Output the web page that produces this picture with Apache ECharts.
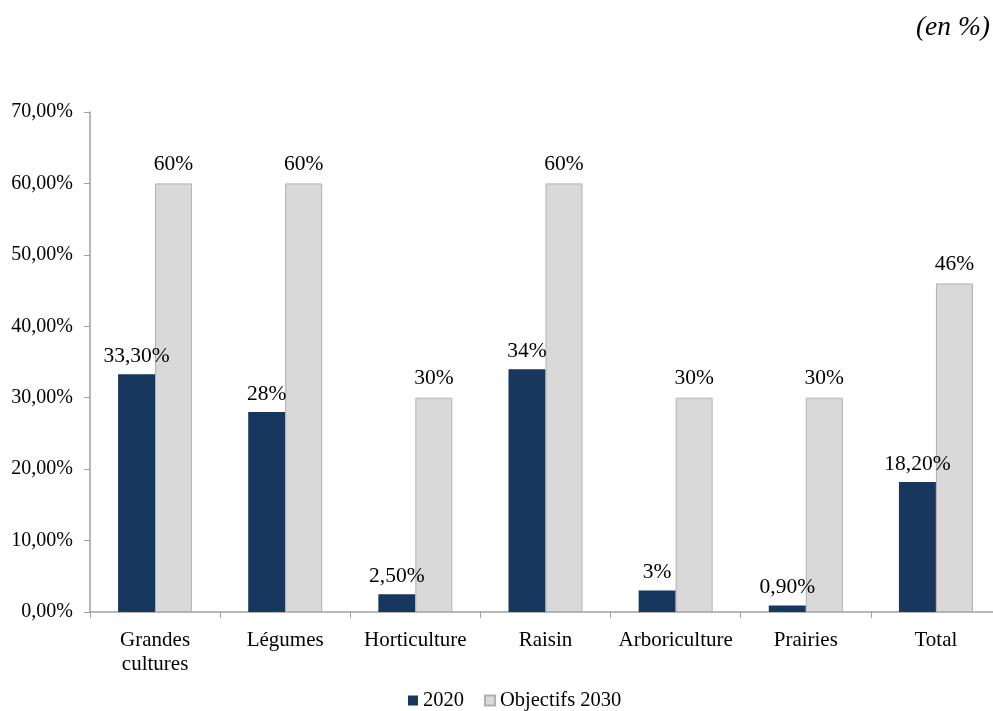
<!DOCTYPE html>
<html><head><meta charset="utf-8">
<script src="https://cdn.jsdelivr.net/npm/echarts@6/dist/echarts.min.js"></script>
<style>html,body{margin:0;padding:0;background:#fff}#c{width:993px;height:711px}</style>
</head><body><div id="c"></div>
<script>
var categories = ['Grandes\ncultures', 'Légumes', 'Horticulture', 'Raisin', 'Arboriculture', 'Prairies', 'Total'];
var values2020 = [33.3, 28, 2.5, 34, 3, 0.9, 18.2];
var labels2020 = ['33,30%', '28%', '2,50%', '34%', '3%', '0,90%', '18,20%'];
var values2030 = [60, 60, 30, 60, 30, 30, 46];
var labels2030 = ['60%', '60%', '30%', '60%', '30%', '30%', '46%'];
var seriesNames = ['2020', 'Objectifs 2030'];

var font = '"Liberation Serif", "Times New Roman", serif';
var chart = echarts.init(document.getElementById('c'));
chart.setOption({
  animation: false,
  textStyle: { fontFamily: font },
  graphic: [{ type: 'text', right: 3, top: 14, style: { text: '(en %)', font: 'italic 27.5px ' + font, fill: '#000' } }],
  grid: { left: 90, width: 911, top: 112, height: 500, containLabel: false, outerBoundsMode: 'none' },
  legend: {
    bottom: -5, left: 403, itemWidth: 10, itemHeight: 10, itemGap: 20,
    icon: 'rect',
    textStyle: { fontFamily: font, fontSize: 20.5, color: '#000' },
    data: seriesNames
  },
  xAxis: {
    type: 'category', data: categories,
    axisLine: { lineStyle: { color: '#a0a0a0', width: 1.5 } },
    axisTick: { show: true, length: 6, lineStyle: { color: '#a0a0a0' } },
    axisLabel: { interval: 0, hideOverlap: false, fontFamily: font, fontSize: 21, color: '#000', margin: 16, lineHeight: 24 }
  },
  yAxis: {
    type: 'value', min: 0, max: 70, interval: 10,
    axisLine: { show: true, lineStyle: { color: '#a0a0a0', width: 1.5 } },
    axisTick: { show: true, length: 6, lineStyle: { color: '#a0a0a0' } },
    splitLine: { show: false },
    axisLabel: { fontFamily: font, fontSize: 20, color: '#000', margin: 17,
      formatter: function (v) { return v.toFixed(2).replace('.', ',') + '%'; } }
  },
  series: [
    { name: seriesNames[0], type: 'bar', data: values2020, barWidth: 37, barGap: '0%',
      itemStyle: { color: '#17375e' },
      label: { show: true, position: 'top', distance: 7, fontFamily: font, fontSize: 21.5, color: '#000',
        formatter: function (p) { return labels2020[p.dataIndex]; } } },
    { name: seriesNames[1], type: 'bar', data: values2030, barWidth: 37, barGap: '0%',
      itemStyle: { color: '#d9d9d9', borderColor: '#b0b0b0', borderWidth: 1 },
      label: { show: true, position: 'top', distance: 8, fontFamily: font, fontSize: 21.5, color: '#000',
        formatter: function (p) { return labels2030[p.dataIndex]; } } }
  ]
});
</script></body></html>
